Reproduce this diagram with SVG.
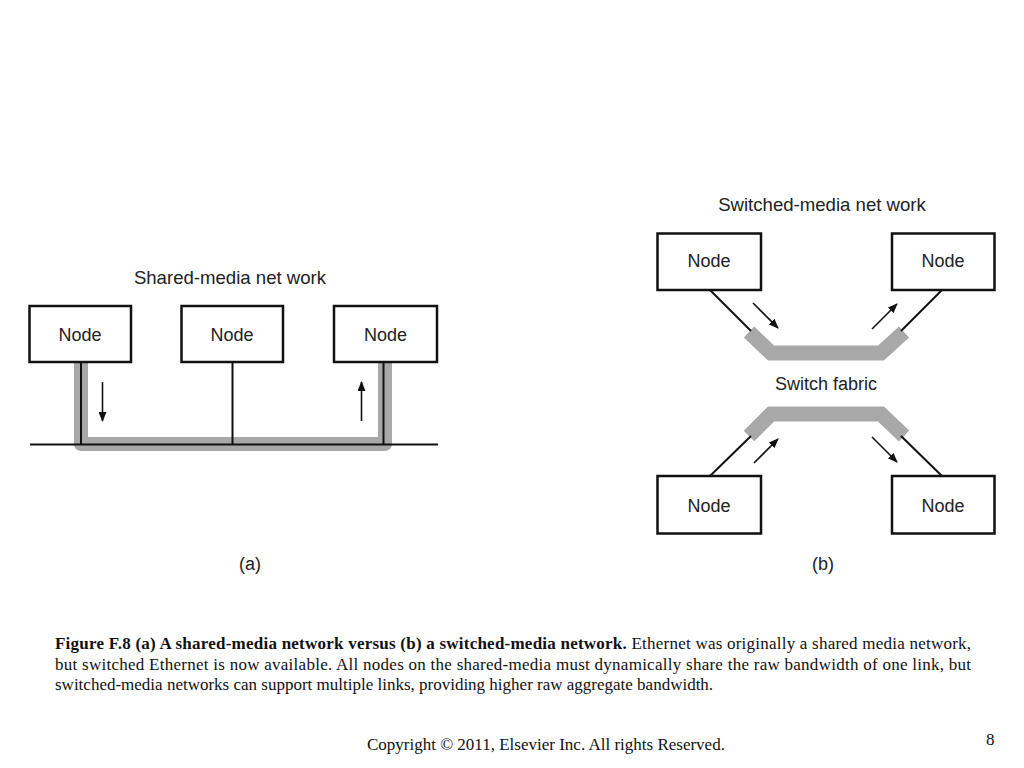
<svg xmlns="http://www.w3.org/2000/svg" width="1024" height="768" viewBox="0 0 1024 768">
<style>
.box{fill:#fff;stroke:#111;stroke-width:2.5}
.lbl{font-family:"Liberation Sans",Arial,sans-serif;font-size:18px;fill:#222;text-anchor:middle}
.ttl{font-size:18.6px}
.ln{stroke:#111;stroke-width:2;fill:none}
.gray{stroke:#a8a8a8;fill:none}
.arr{stroke:#111;stroke-width:1.6;fill:none;marker-end:url(#ah)}
.cap{font-family:"Liberation Serif","Times New Roman",serif;font-size:17px;fill:#111}
</style>
<defs>
<marker id="ah" viewBox="0 0 10 8" refX="9" refY="4" markerWidth="10" markerHeight="8" markerUnits="userSpaceOnUse" orient="auto">
<path d="M0,0 L10,4 L0,8 Z" fill="#111"/>
</marker>
</defs>
<rect width="1024" height="768" fill="#fff"/>

<!-- (a) shared-media -->
<text class="lbl ttl" x="230" y="284">Shared-media net work</text>
<g id="connectors-a">
<path class="gray" d="M81 362 V444 H385 V362" stroke-width="14" stroke-linejoin="round"/>
<line class="ln" x1="30" y1="444.5" x2="438" y2="444.5" stroke-width="1.6"/>
<line class="ln" x1="81" y1="362" x2="81" y2="444.5"/>
<line class="ln" x1="232.5" y1="362" x2="232.5" y2="444.5" stroke-width="1.6"/>
<line class="ln" x1="383.5" y1="362" x2="383.5" y2="444.5"/>
<line class="arr" x1="102.5" y1="382" x2="102.5" y2="421"/>
<line class="arr" x1="361.5" y1="421" x2="361.5" y2="382"/>
</g>
<g id="a-node1"><rect class="box" x="29.5" y="306" width="101.5" height="56"/><text class="lbl" x="80" y="341">Node</text></g>
<g id="a-node2"><rect class="box" x="181.5" y="306" width="101.5" height="56"/><text class="lbl" x="232" y="341">Node</text></g>
<g id="a-node3"><rect class="box" x="334" y="306" width="103" height="56"/><text class="lbl" x="385.5" y="341">Node</text></g>
<text class="lbl" x="250" y="570">(a)</text>

<!-- (b) switched-media -->
<text class="lbl ttl" x="822" y="211">Switched-media net work</text>
<g id="connectors-b">
<polyline class="gray" points="749,332 771,353 881,353 904,332" stroke-width="15" stroke-linejoin="miter"/>
<polyline class="gray" points="749,436 771,414 881,414 904,436" stroke-width="15" stroke-linejoin="miter"/>
<line class="ln" x1="710" y1="290" x2="751" y2="331"/>
<line class="ln" x1="942" y1="290" x2="901" y2="331"/>
<line class="ln" x1="710" y1="476" x2="751" y2="436"/>
<line class="ln" x1="942" y1="476" x2="901" y2="436"/>
<line class="arr" x1="753" y1="303" x2="778" y2="328"/>
<line class="arr" x1="872" y1="329" x2="897" y2="304"/>
<line class="arr" x1="754" y1="463" x2="778" y2="439"/>
<line class="arr" x1="872" y1="437" x2="897" y2="462"/>
</g>
<text class="lbl" x="826" y="390">Switch fabric</text>
<g id="b-node1"><rect class="box" x="657.5" y="233.5" width="103.5" height="56.5"/><text class="lbl" x="709" y="267">Node</text></g>
<g id="b-node2"><rect class="box" x="892" y="233.5" width="102.5" height="56.5"/><text class="lbl" x="943" y="267">Node</text></g>
<g id="b-node3"><rect class="box" x="657.5" y="476" width="103.5" height="57.5"/><text class="lbl" x="709" y="512">Node</text></g>
<g id="b-node4"><rect class="box" x="892" y="476" width="102.5" height="57.5"/><text class="lbl" x="943" y="512">Node</text></g>
<text class="lbl" x="823" y="570">(b)</text>

<!-- caption -->
<text class="cap" x="55" y="649" textLength="916" lengthAdjust="spacing"><tspan font-weight="bold">Figure F.8 (a) A shared-media network versus (b) a switched-media network.</tspan> Ethernet was originally a shared media network,</text>
<text class="cap" x="55" y="670" textLength="916" lengthAdjust="spacing">but switched Ethernet is now available. All nodes on the shared-media must dynamically share the raw bandwidth of one link, but</text>
<text class="cap" x="55" y="690">switched-media networks can support multiple links, providing higher raw aggregate bandwidth.</text>
<text class="cap" x="367" y="750">Copyright © 2011, Elsevier Inc. All rights Reserved.</text>
<text class="cap" x="986" y="745">8</text>
</svg>
